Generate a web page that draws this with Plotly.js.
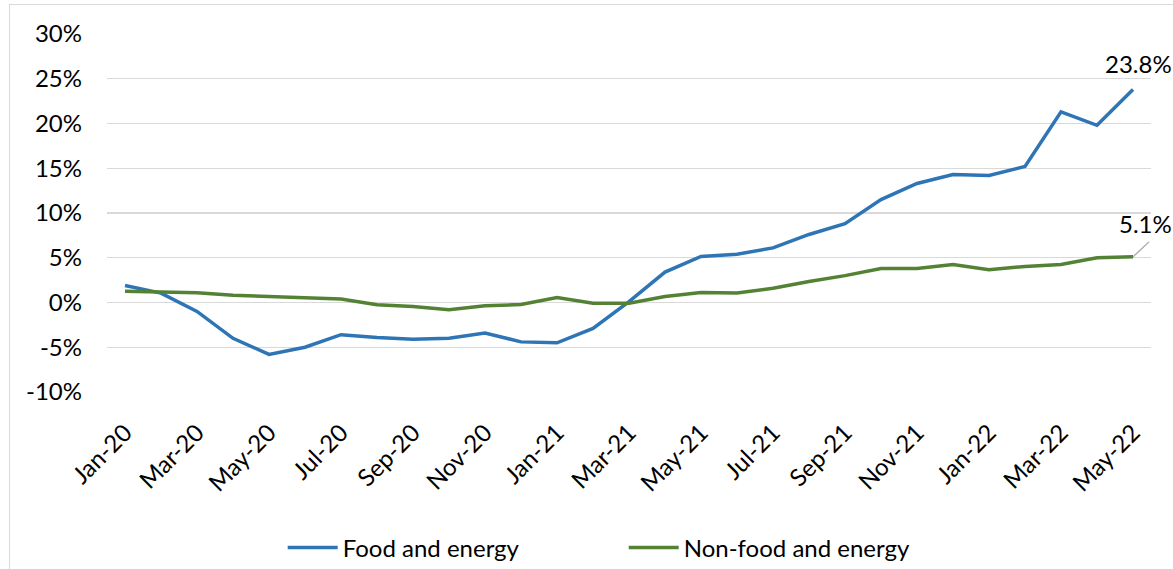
<!DOCTYPE html>
<html>
<head>
<meta charset="utf-8">
<script src="https://cdn.plot.ly/plotly-3.0.1.min.js"></script>
<style>
  html, body { margin: 0; padding: 0; background: #ffffff; }
  #wrap { position: relative; width: 1173px; height: 569px; overflow: hidden; }
  #frame { position: absolute; left: 9px; top: 4px; width: 1300px; height: 700px;
           border-left: 1.5px solid #d9d9d9; border-top: 1.5px solid #d9d9d9; pointer-events: none; }
  #chart { position: absolute; left: 0; top: 0; width: 1173px; height: 569px; }
</style>
</head>
<body>
<div id="wrap">
  <div id="chart"></div>
  <div id="frame"></div>
</div>
<script>
// Monthly year-on-year change, Jan-20 .. May-22 (percent)
const months = [
  'Jan-20','Feb-20','Mar-20','Apr-20','May-20','Jun-20','Jul-20','Aug-20','Sep-20','Oct-20','Nov-20','Dec-20',
  'Jan-21','Feb-21','Mar-21','Apr-21','May-21','Jun-21','Jul-21','Aug-21','Sep-21','Oct-21','Nov-21','Dec-21',
  'Jan-22','Feb-22','Mar-22','Apr-22','May-22'
];
const foodEnergy = [
  1.9, 1.05, -1.0, -4.0, -5.8, -5.0, -3.6, -3.9, -4.1, -4.0, -3.4, -4.4,
  -4.5, -2.9, 0.1, 3.4, 5.15, 5.4, 6.1, 7.6, 8.8, 11.5, 13.3, 14.3,
  14.2, 15.2, 21.3, 19.8, 23.8
];
const nonFoodEnergy = [
  1.25, 1.2, 1.1, 0.8, 0.67, 0.6, 0.4, -0.26, -0.45, -0.82, -0.37, -0.22,
  0.56, -0.07, -0.07, 0.67, 1.12, 1.05, 1.6, 2.35, 3.0, 3.8, 3.8, 4.25,
  3.66, 4.03, 4.25, 5.0, 5.1
];
const seriesNames = ['Food and energy', 'Non-food and energy'];
const seriesColors = ['#2e75b6', '#548235'];

const yTicks = [-10, -5, 0, 5, 10, 15, 20, 25, 30];
const yTickText = yTicks.map(v => (v < 0 ? '-' + Math.abs(v) : String(v)) + '%');
const xTicks = months.filter((m, i) => i % 2 === 0);

const FONT = 'Lato, "Open Sans", sans-serif';
const FS = 24;
const last = months.length - 1;

const traces = [foodEnergy, nonFoodEnergy].map((vals, k) => ({
  type: 'scatter',
  mode: 'lines',
  name: seriesNames[k],
  x: months,
  y: vals,
  line: { color: seriesColors[k], width: 3.5 },
  hoverinfo: 'skip'
}));

const layout = {
  width: 1173,
  height: 569,
  paper_bgcolor: 'rgba(0,0,0,0)',
  plot_bgcolor: 'rgba(0,0,0,0)',
  margin: { l: 107, r: 22, t: 34, b: 177, pad: 0 },
  font: { family: FONT, size: FS, color: '#000000' },
  showlegend: true,
  legend: {
    orientation: 'h',
    xref: 'container', yref: 'container',
    x: 0.241, xanchor: 'left',
    y: 0.037, yanchor: 'middle',
    entrywidth: 276, entrywidthmode: 'pixels',
    itemwidth: 50,
    font: { family: FONT, size: FS, color: '#000000' },
    bgcolor: 'rgba(0,0,0,0)'
  },
  xaxis: {
    type: 'category',
    categoryorder: 'array',
    categoryarray: months,
    range: [-0.5, months.length - 0.5],
    tickmode: 'array',
    tickvals: xTicks,
    ticktext: xTicks,
    tickangle: -45,
    ticks: '',
    ticklabelstandoff: 21,
    showgrid: false,
    showline: false,
    zeroline: false,
    fixedrange: true
  },
  yaxis: {
    range: [-10, 30],
    tickmode: 'array',
    tickvals: yTicks,
    ticktext: yTickText,
    ticks: '',
    ticklabelstandoff: 24,
    showgrid: true,
    gridcolor: '#d9d9d9',
    gridwidth: 1.4,
    showline: false,
    zeroline: false,
    fixedrange: true
  },
  annotations: [
    {
      x: months[last], y: foodEnergy[last], xref: 'x', yref: 'y',
      text: foodEnergy[last].toFixed(1) + '%',
      showarrow: false, xanchor: 'center', yanchor: 'middle',
      xshift: 5, yshift: 26,
      font: { family: FONT, size: FS, color: '#000000' }
    },
    {
      x: months[last], y: nonFoodEnergy[last], xref: 'x', yref: 'y',
      text: nonFoodEnergy[last].toFixed(1) + '%',
      showarrow: false, xanchor: 'center', yanchor: 'middle',
      xshift: 12, yshift: 33,
      font: { family: FONT, size: FS, color: '#000000' }
    }
  ],
  shapes: [
    {
      // leader line from the last point to its label
      type: 'line', xref: 'x', yref: 'y',
      xsizemode: 'pixel', ysizemode: 'pixel',
      xanchor: months[last], yanchor: nonFoodEnergy[last],
      x0: 0, y0: 0, x1: 16, y1: 15,
      line: { color: '#a6a6a6', width: 1.3 }
    }
  ]
};

Plotly.newPlot('chart', traces, layout, { staticPlot: true, displayModeBar: false });
</script>
</body>
</html>
